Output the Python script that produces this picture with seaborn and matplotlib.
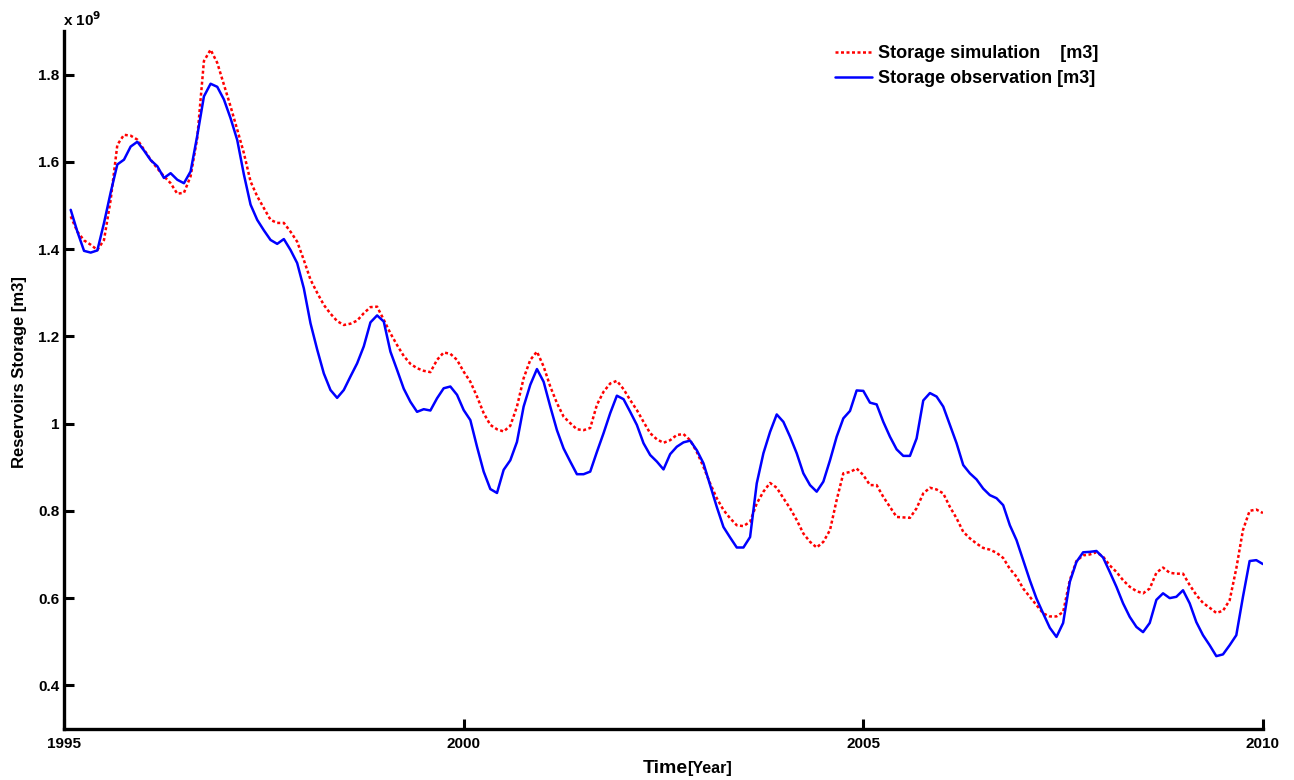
import numpy as np
import pandas as pd
import matplotlib
matplotlib.use("Agg")
import matplotlib.pyplot as plt
from matplotlib.ticker import FuncFormatter
import seaborn as sns

# Monthly reservoir storage, Feb 1995 .. Jan 2010, in units of 1e9 m3
simulated = [
    1.475, 1.44, 1.42, 1.410, 1.398, 1.421, 1.513, 1.639, 1.662, 1.660,
    1.651, 1.628, 1.605, 1.585, 1.567, 1.551, 1.527, 1.529, 1.567, 1.655,
    1.831, 1.857, 1.827, 1.777, 1.727, 1.674, 1.620, 1.555, 1.521, 1.494,
    1.467, 1.460, 1.460, 1.440, 1.417, 1.375, 1.33, 1.30, 1.272, 1.252,
    1.235, 1.226, 1.229, 1.236, 1.253, 1.267, 1.268, 1.238, 1.207, 1.180,
    1.155, 1.137, 1.127, 1.121, 1.118, 1.146, 1.163, 1.160, 1.146, 1.119,
    1.096, 1.062, 1.024, 0.997, 0.987, 0.982, 0.995, 1.039, 1.104, 1.146,
    1.165, 1.131, 1.085, 1.047, 1.016, 1.001, 0.987, 0.985, 0.990, 1.043,
    1.073, 1.092, 1.098, 1.079, 1.054, 1.031, 1.004, 0.978, 0.964, 0.956,
    0.962, 0.974, 0.976, 0.962, 0.935, 0.901, 0.863, 0.829, 0.802, 0.783,
    0.767, 0.765, 0.775, 0.817, 0.844, 0.864, 0.853, 0.829, 0.806, 0.779,
    0.748, 0.729, 0.716, 0.729, 0.756, 0.825, 0.886, 0.889, 0.897, 0.882,
    0.859, 0.859, 0.832, 0.809, 0.786, 0.785, 0.784, 0.806, 0.840, 0.853,
    0.849, 0.840, 0.809, 0.783, 0.752, 0.737, 0.725, 0.715, 0.711, 0.704,
    0.692, 0.667, 0.649, 0.622, 0.603, 0.584, 0.565, 0.558, 0.558, 0.568,
    0.641, 0.685, 0.698, 0.700, 0.705, 0.695, 0.675, 0.660, 0.641, 0.626,
    0.616, 0.611, 0.622, 0.658, 0.670, 0.658, 0.656, 0.656, 0.630, 0.607,
    0.589, 0.578, 0.566, 0.571, 0.595, 0.668, 0.756, 0.800, 0.803, 0.795,
]

observed = [
    1.490, 1.44, 1.396, 1.392, 1.397, 1.46, 1.53, 1.594, 1.605, 1.635,
    1.646, 1.626, 1.604, 1.590, 1.563, 1.574, 1.559, 1.551, 1.578, 1.66,
    1.750, 1.779, 1.772, 1.743, 1.70, 1.650, 1.571, 1.502, 1.467, 1.443,
    1.421, 1.412, 1.423, 1.398, 1.368, 1.31, 1.230, 1.17, 1.115, 1.077,
    1.059, 1.077, 1.108, 1.138, 1.177, 1.232, 1.248, 1.234, 1.165, 1.123,
    1.08, 1.05, 1.027, 1.033, 1.030, 1.058, 1.081, 1.085, 1.066, 1.031,
    1.008, 0.947, 0.890, 0.850, 0.841, 0.894, 0.916, 0.958, 1.039, 1.089,
    1.125, 1.096, 1.039, 0.985, 0.943, 0.913, 0.884, 0.884, 0.890, 0.935,
    0.978, 1.024, 1.064, 1.056, 1.027, 0.997, 0.955, 0.928, 0.913, 0.895,
    0.930, 0.947, 0.957, 0.961, 0.939, 0.909, 0.859, 0.809, 0.763, 0.739,
    0.716, 0.716, 0.740, 0.863, 0.932, 0.981, 1.021, 1.004, 0.970, 0.932,
    0.886, 0.859, 0.844, 0.867, 0.916, 0.970, 1.012, 1.029, 1.076, 1.075,
    1.048, 1.044, 1.004, 0.970, 0.941, 0.926, 0.926, 0.966, 1.053, 1.070,
    1.062, 1.039, 0.997, 0.955, 0.905, 0.886, 0.872, 0.851, 0.836, 0.829,
    0.813, 0.767, 0.733, 0.687, 0.641, 0.599, 0.565, 0.532, 0.511, 0.543,
    0.637, 0.683, 0.705, 0.706, 0.708, 0.693, 0.660, 0.626, 0.588, 0.557,
    0.534, 0.522, 0.543, 0.596, 0.611, 0.600, 0.603, 0.618, 0.588, 0.545,
    0.515, 0.492, 0.467, 0.471, 0.492, 0.515, 0.603, 0.685, 0.687, 0.678,
]

start_year = 1995
end_year = 2010
year_ticks = [1995, 2000, 2005, 2010]
storage_ticks = [0.4, 0.6, 0.8, 1.0, 1.2, 1.4, 1.6, 1.8]

months = np.arange(1, len(observed) + 1)
years = start_year + months / 12.0

df = pd.DataFrame({"year": years, "sim": simulated, "obs": observed})

sns.set_style("white")
plt.rcParams["font.family"] = ["Liberation Sans", "DejaVu Sans"]
plt.rcParams["font.weight"] = "bold"
plt.rcParams["text.color"] = "black"
plt.rcParams["axes.labelcolor"] = "black"

fig = plt.figure(figsize=(12.94, 7.80), dpi=100)
ax = fig.add_axes([0.0495, 0.0654, 0.9265, 0.8949])

sns.lineplot(data=df, x="year", y="sim", ax=ax, color="#ff0000",
             linestyle=(0, (1.2, 1.0)), linewidth=1.8,
             label="Storage simulation    [m3]")
sns.lineplot(data=df, x="year", y="obs", ax=ax, color="#0000ff",
             linewidth=1.8, label="Storage observation [m3]")

ax.set_xlim(start_year, end_year)
ax.set_ylim(0.3, 1.9)
ax.set_xticks(year_ticks)
ax.set_yticks(storage_ticks)
ax.yaxis.set_major_formatter(FuncFormatter(lambda v, p: f"{v:g}"))

for side in ("top", "right"):
    ax.spines[side].set_visible(False)
for side in ("left", "bottom"):
    ax.spines[side].set_linewidth(2.4)
    ax.spines[side].set_color("black")

ax.tick_params(axis="both", which="major", direction="in", length=7,
               width=2.2, labelsize=11, color="black", labelcolor="black",
               bottom=True, left=True, top=False, right=False)
ax.tick_params(axis="x", pad=6)
ax.tick_params(axis="y", pad=3.5)
for lbl in ax.get_xticklabels() + ax.get_yticklabels():
    lbl.set_fontweight("bold")

ax.set_xlabel("")
ax.set_ylabel("Reservoirs Storage [m3]", fontsize=12, fontweight="bold")
ax.yaxis.set_label_coords(-0.031, 0.511)

fig.text(0.4965, 0.009, "Time", fontsize=14, fontweight="bold",
         ha="left", va="baseline")
fig.text(0.531, 0.009, "[Year]", fontsize=11.5, fontweight="bold",
         ha="left", va="baseline")

fig.text(0.049, 0.967, r"x 10$^{9}$", fontsize=11, fontweight="bold",
         ha="left", va="baseline")

leg = ax.legend(loc="upper left", bbox_to_anchor=(0.645, 0.942),
                bbox_transform=fig.transFigure, frameon=False,
                borderpad=0, borderaxespad=0,
                handlelength=2.05, handletextpad=0.33, labelspacing=0.45,
                prop={"size": 13, "weight": "bold"})

fig.savefig("out.png", dpi=100)
